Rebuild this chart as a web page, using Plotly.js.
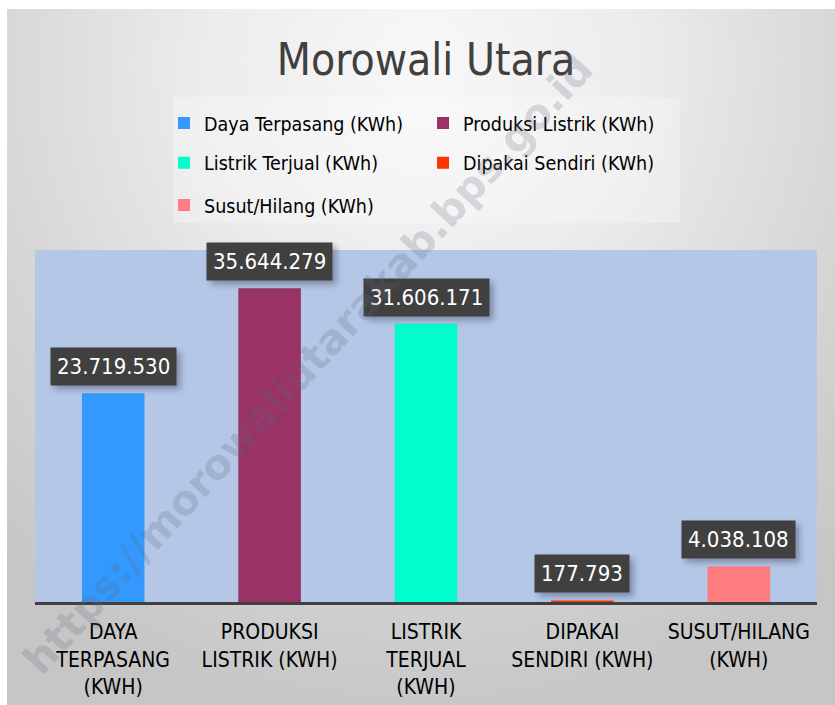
<!DOCTYPE html>
<html>
<head>
<meta charset="utf-8">
<script src="https://cdn.plot.ly/plotly-3.0.1.min.js"></script>
<style>
  html, body { margin: 0; padding: 0; background: #ffffff; }
  #wrap { position: relative; width: 835px; height: 705px; overflow: hidden; }
  #bg { position: absolute; left: 7px; top: 9px; width: 828px; height: 696px;
        background: radial-gradient(ellipse 75% 95% at 50% 8%, #f8f8f8 0%, #ececec 35%, #d6d6d6 70%, #c6c6c6 100%); }
  #chart { position: absolute; left: 0; top: 0; width: 835px; height: 705px; }
  #chart .annotation-text-g rect.bg { filter: drop-shadow(4px 4px 3px rgba(30,30,50,0.35)); }
</style>
</head>
<body>
<div id="wrap"><div id="bg"></div><div id="chart"></div></div>
<script>
// ---- data ----
const seriesNames = ['Daya Terpasang (KWh)', 'Produksi Listrik (KWh)', 'Listrik Terjual (KWh)', 'Dipakai Sendiri (KWh)', 'Susut/Hilang (KWh)'];
const categories = ['DAYA<br>TERPASANG<br>(KWH)', 'PRODUKSI<br>LISTRIK (KWH)', 'LISTRIK<br>TERJUAL<br>(KWH)', 'DIPAKAI<br>SENDIRI (KWH)', 'SUSUT/HILANG<br>(KWH)'];
const values = [23719530, 35644279, 31606171, 177793, 4038108];
const valueLabels = ['23.719.530', '35.644.279', '31.606.171', '177.793', '4.038.108'];
const colors = ['#3399ff', '#993366', '#00ffcc', '#ff3300', '#ff7c80'];
const legendOf = ['legend', 'legend', 'legend2', 'legend2', 'legend3'];

const FONT = '"DejaVu Sans Condensed", "Liberation Sans Narrow", "Roboto", sans-serif';

const traces = seriesNames.map((name, i) => ({
  type: 'bar',
  name: name,
  x: [categories[i]],
  y: [values[i]],
  width: 0.4,
  marker: { color: colors[i] },
  legend: legendOf[i],
  hoverinfo: 'skip'
}));

const annotations = values.map((v, i) => ({
  x: categories[i], y: v, xref: 'x', yref: 'y',
  yanchor: 'bottom', showarrow: false, yshift: 7,
  text: valueLabels[i],
  font: { family: FONT, size: 22, color: '#ffffff' },
  bgcolor: '#404040', borderpad: 6
}));
annotations.push({
  xref: 'paper', yref: 'paper', x: 0.35, y: 0.675,
  xanchor: 'center', yanchor: 'middle', showarrow: false,
  text: 'https://morowaliutarakab.bps.go.id', textangle: -47.6,
  font: { family: '"DejaVu Sans", sans-serif', size: 41, color: 'rgba(95,105,125,0.24)', weight: 'bold' }
});

const legendBase = {
  orientation: 'h', xanchor: 'left', yanchor: 'middle',
  bgcolor: 'rgba(0,0,0,0)', borderwidth: 0,
  font: { family: FONT, size: 19.5, color: '#000000' },
  itemwidth: 30, entrywidth: 214, entrywidthmode: 'pixels',
  itemclick: false, itemdoubleclick: false
};

const layout = {
  width: 835, height: 705,
  paper_bgcolor: 'rgba(0,0,0,0)',
  plot_bgcolor: '#b4c7e7',
  margin: { l: 35, r: 18, t: 250, b: 103 },
  barmode: 'overlay',
  showlegend: true,
  title: {
    text: 'Morowali Utara', x: 0.5, xref: 'paper', y: 0.915, yanchor: 'middle',
    font: { family: FONT, size: 44, color: '#404040' }
  },
  legend: Object.assign({}, legendBase, { x: 0.165, y: 1.36 }),
  legend2: Object.assign({}, legendBase, { x: 0.165, y: 1.247 }),
  legend3: Object.assign({}, legendBase, { x: 0.165, y: 1.127 }),
  xaxis: {
    type: 'category', showgrid: false, zeroline: false,
    showline: true, linecolor: '#404040', linewidth: 3,
    ticks: '', ticklabelstandoff: 9,
    tickfont: { family: FONT, size: 21, color: '#000000' },
    fixedrange: true
  },
  yaxis: {
    range: [0, 40000000], showgrid: false, zeroline: false, showline: false,
    showticklabels: false, ticks: '', fixedrange: true
  },
  shapes: [{
    type: 'rect', xref: 'paper', yref: 'paper', layer: 'below',
    x0: 0.1765, x1: 0.8248, y0: 1.0767, y1: 1.4347,
    fillcolor: 'rgba(255,255,255,0.28)', line: { width: 0 }
  }],
  annotations: annotations
};

Plotly.newPlot('chart', traces, layout, { staticPlot: true, displayModeBar: false });
</script>
</body>
</html>
